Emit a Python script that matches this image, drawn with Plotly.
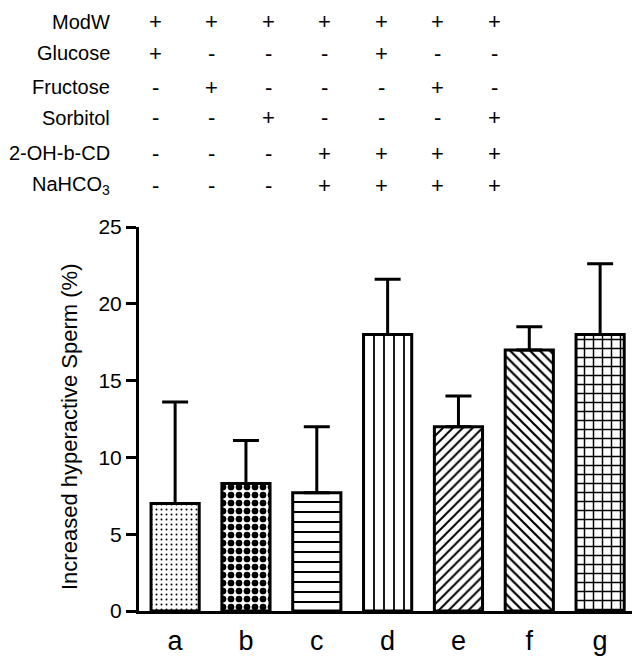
import plotly.graph_objects as go

# ---- data ----
groups = ["a", "b", "c", "d", "e", "f", "g"]
means = [7.0, 8.3, 7.7, 18.0, 12.0, 17.0, 18.0]
upper = [13.6, 11.1, 12.0, 21.6, 14.0, 18.5, 22.6]
yticks = [0, 5, 10, 15, 20, 25]
y_title = "Increased hyperactive Sperm (%)"
row_labels = ["ModW", "Glucose", "Fructose", "Sorbitol", "2-OH-b-CD", "NaHCO<sub>3</sub>"]
conditions = [
    ["+", "+", "+", "+", "+", "+", "+"],
    ["+", "-", "-", "-", "+", "-", "-"],
    ["-", "+", "-", "-", "-", "+", "-"],
    ["-", "-", "+", "-", "-", "-", "+"],
    ["-", "-", "-", "+", "+", "+", "+"],
    ["-", "-", "-", "+", "+", "+", "+"],
]
shapes_pat = [".", ".", "-", "|", "/", "\\", "+"]
sizes_pat = [5, 8, 10, 10, 7, 7, 9]
solid_pat = [0.12, 0.55, 0.2, 0.18, 0.28, 0.32, 0.3]

# ---- geometry (pixels) ----
W, H = 632, 657
ML, MR, MT, MB = 139, 0, 227, 46
PW, PH = W - ML - MR, H - MT - MB
FONT = "Liberation Sans, Arial, Helvetica, sans-serif"


def px_x(px):
    return (px - ML) / PW


def px_y(py):
    return (H - MB - py) / PH


err_up = [u - m for u, m in zip(upper, means)]

fig = go.Figure()
fig.add_trace(go.Bar(
    x=groups,
    y=means,
    width=0.68,
    marker=dict(
        color="white",
        line=dict(color="black", width=3),
        pattern=dict(shape=shapes_pat, size=sizes_pat, solidity=solid_pat,
                     fgcolor="black", fgopacity=1, bgcolor="white",
                     fillmode="replace"),
    ),
    error_y=dict(type="data", symmetric=False, array=err_up,
                 arrayminus=[0] * len(means), color="black", thickness=3, width=13),
    showlegend=False,
    hoverinfo="skip",
))

annotations = []
row_py = [22, 53, 87, 118, 153, 185]
col_px0, col_step = 155, 56.5
for r, lab in enumerate(row_labels):
    annotations.append(dict(
        text=lab, xref="paper", yref="paper", x=px_x(112), y=px_y(row_py[r]),
        xanchor="right", yanchor="middle", showarrow=False,
        font=dict(family=FONT, size=20, color="black")))
    for c, sym in enumerate(conditions[r]):
        annotations.append(dict(
            text=sym, xref="paper", yref="paper", x=px_x(col_px0 + c * col_step),
            y=px_y(row_py[r]), xanchor="center", yanchor="middle", showarrow=False,
            font=dict(family=FONT, size=22, color="black")))

annotations.append(dict(
    text=y_title, xref="paper", yref="paper", x=px_x(69), y=px_y(427),
    xanchor="center", yanchor="middle", textangle=-90, showarrow=False,
    font=dict(family=FONT, size=22, color="black")))

fig.update_layout(
    width=W, height=H, autosize=False,
    margin=dict(l=ML, r=MR, t=MT, b=MB, pad=0),
    paper_bgcolor="white", plot_bgcolor="white",
    font=dict(family=FONT, color="black"),
    annotations=annotations,
)
fig.update_xaxes(
    range=[-0.51, 6.45], showline=True, linecolor="black", linewidth=3,
    ticks="", showgrid=False, zeroline=False,
    tickfont=dict(family=FONT, size=27, color="black"), ticklabelstandoff=4,
)
fig.update_yaxes(
    range=[0, 25], tickvals=yticks, showline=True, linecolor="black", linewidth=3,
    ticks="outside", ticklen=10, tickwidth=3, tickcolor="black",
    showgrid=False, zeroline=False,
    tickfont=dict(family=FONT, size=21, color="black"),
)

fig.write_html("out.html", config={"displayModeBar": False},
               post_script="document.body.style.margin='0';")
